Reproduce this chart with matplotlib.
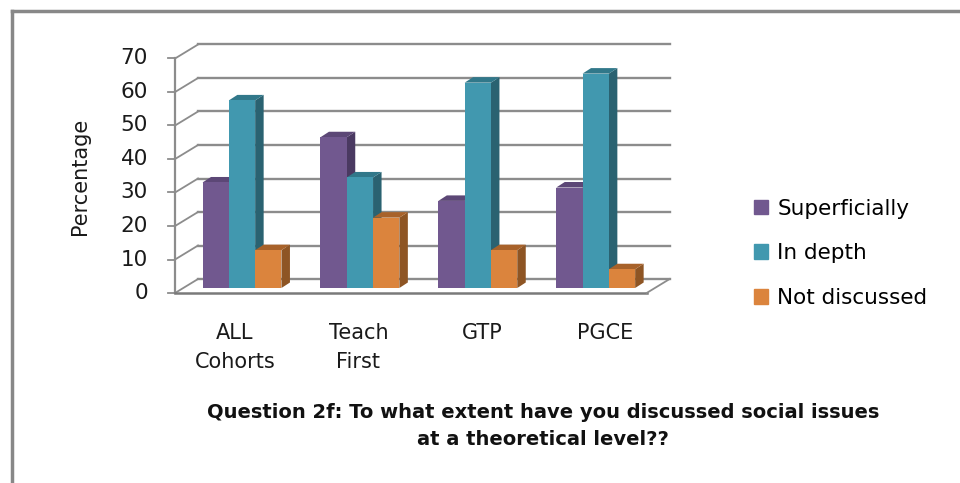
import matplotlib
matplotlib.use("Agg")
import matplotlib.pyplot as plt
from matplotlib.patches import Polygon, Patch

# Data
categories = ["ALL\nCohorts", "Teach\nFirst", "GTP", "PGCE"]
series = ["Superficially", "In depth", "Not discussed"]
superficially = [31.5, 45, 26, 30]
in_depth = [56, 33, 61.3, 64]
not_discussed = [11.3, 21, 11.3, 5.6]
values = [superficially, in_depth, not_discussed]
yticks = [0, 10, 20, 30, 40, 50, 60, 70]

front_cols = ["#71588F", "#4198AF", "#DB843D"]
side_cols = ["#4A3961", "#2A6271", "#8E5524"]
top_cols = ["#5C4776", "#31788A", "#A8622A"]
grid_col = "#8C8C8C"

# pixel -> data scales for the bar plane
PX = 1 / 117.9   # category units per pixel
PV = 1 / 3.35    # value units per pixel
W, H = 960, 483

fig = plt.figure(figsize=(9.6, 4.83), dpi=100)

# overlay in pixel coords for frame and text
pax = fig.add_axes([0, 0, 1, 1])
pax.set_xlim(0, W)
pax.set_ylim(H, 0)
pax.axis("off")

ax = fig.add_axes([0, 0, 1, 1])
ax.patch.set_alpha(0)
ax.set_xlim((0 - 242) * PX, (W - 242) * PX)
ax.set_ylim((288 - H) * PV, 288 * PV)
ax.axis("off")

xl, xr = -0.5, 3.5
fdx, fdv = -8 * PX, -5 * PV     # front plane offset
bdx, bdv = 15 * PX, 9 * PV      # back wall offset
ddx, ddv = 8.5 * PX, 5.5 * PV   # bar depth

# walls and gridlines
for v in yticks:
    ax.plot([xl + bdx, xr + bdx], [v + bdv, v + bdv], color=grid_col, lw=1.7, zorder=1)
    ax.plot([xl + fdx, xl + bdx], [v + fdv, v + bdv], color=grid_col, lw=1.3, zorder=1)
    ax.plot([xl + fdx - 7 * PX, xl + fdx], [v + fdv, v + fdv], color=grid_col, lw=1.3, zorder=1)
    ax.text(xl + fdx - 27 * PX, v + fdv, str(v), ha="right", va="center",
            fontsize=15.5, color="#1a1a1a")
ax.plot([xl + fdx, xl + fdx], [fdv, yticks[-1] + fdv], color=grid_col, lw=1.6, zorder=1)
ax.plot([xl + fdx, xr + fdx], [fdv, fdv], color="#7a7a7a", lw=1.8, zorder=1)
ax.plot([xr + fdx, xr + bdx], [fdv, bdv], color=grid_col, lw=1.3, zorder=1)

# 3D-looking bars
w = 26.3 * PX
z = 3
for i in range(len(categories)):
    for s in range(len(series)):
        x = i + (s - 1) * w
        v = values[s][i]
        r = x + w / 2
        l = x - w / 2
        ax.add_patch(Polygon([(r, 0), (r + ddx, ddv), (r + ddx, v + ddv), (r, v)],
                             closed=True, color=side_cols[s], zorder=z, lw=0))
        ax.add_patch(Polygon([(l, v), (l + ddx, v + ddv), (r + ddx, v + ddv), (r, v)],
                             closed=True, color=top_cols[s], zorder=z, lw=0))
        ax.bar(x, v, width=w, color=front_cols[s], zorder=z + 0.5, lw=0)
        z += 1

# category labels
for i, c in enumerate(categories):
    pax.text(235 + 123.5 * i, 323, c, ha="center", va="top", fontsize=15,
             linespacing=1.55, color="#1a1a1a")

pax.text(80, 176, "Percentage", rotation=90, ha="center", va="center",
         fontsize=15, color="#1a1a1a")

pax.text(543, 426, "Question 2f: To what extent have you discussed social issues\nat a theoretical level??",
         ha="center", va="center", fontsize=14, fontweight="bold",
         linespacing=1.55, color="#111111")

handles = [Patch(color=c) for c in front_cols]
leg = fig.legend(handles, series, loc="upper left", bbox_to_anchor=(745 / W, 1 - 190 / H),
                 frameon=False, fontsize=15.5, handlelength=0.68, handleheight=0.68,
                 handletextpad=0.42, labelspacing=1.15, borderaxespad=0)

# outer chart border (left and top only visible)
pax.plot([12, 12], [11, H], color="#888888", lw=2.5)
pax.plot([12, W], [11, 11], color="#888888", lw=2.5)

fig.savefig("out.png", dpi=100)
